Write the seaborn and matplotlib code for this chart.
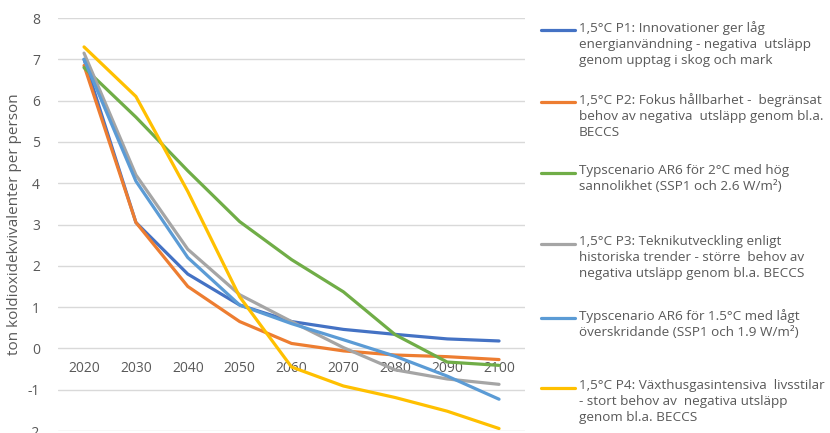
import matplotlib
matplotlib.use("Agg")
import matplotlib.pyplot as plt
from matplotlib.lines import Line2D
import seaborn as sns
import pandas as pd

years = [2020, 2030, 2040, 2050, 2060, 2070, 2080, 2090, 2100]

p1 = [7.0, 3.05, 1.8, 1.05, 0.65, 0.46, 0.34, 0.23, 0.18]
p2 = [6.85, 3.05, 1.5, 0.65, 0.12, -0.06, -0.16, -0.2, -0.27]
ar6_2c = [6.8, 5.6, 4.3, 3.07, 2.15, 1.37, 0.33, -0.33, -0.41]
p3 = [7.15, 4.2, 2.4, 1.3, 0.65, 0.02, -0.52, -0.74, -0.87]
ar6_15c = [7.0, 4.05, 2.2, 1.05, 0.6, 0.21, -0.19, -0.67, -1.23]
p4 = [7.3, 6.1, 3.8, 1.25, -0.45, -0.91, -1.19, -1.52, -1.94]

labels = [
    "1,5°C P1: Innovationer ger låg\nenergianvändning - negativa  utsläpp\ngenom upptag i skog och mark",
    "1,5°C P2: Fokus hållbarhet -  begränsat\nbehov av negativa  utsläpp genom bl.a.\nBECCS",
    "Typscenario AR6 för 2°C med hög\nsannolikhet (SSP1 och 2.6 W/m²)",
    "1,5°C P3: Teknikutveckling enligt\nhistoriska trender - större  behov av\nnegativa utsläpp genom bl.a. BECCS",
    "Typscenario AR6 för 1.5°C med lågt\növerskridande (SSP1 och 1.9 W/m²)",
    "1,5°C P4: Växthusgasintensiva  livsstilar\n- stort behov av  negativa utsläpp\ngenom bl.a. BECCS",
]
colors = ["#4472C4", "#ED7D31", "#70AD47", "#A5A5A5", "#5B9BD5", "#FFC000"]
series = [p1, p2, ar6_2c, p3, ar6_15c, p4]

rows = []
for lab, vals in zip(labels, series):
    for y, v in zip(years, vals):
        rows.append({"year": y, "value": v, "scenario": lab})
df = pd.DataFrame(rows)

sns.set_theme(style="white")
plt.rcParams["font.family"] = ["Open Sans", "DejaVu Sans"]
plt.rcParams["axes.unicode_minus"] = False

text_color = "#595959"
fig = plt.figure(figsize=(8.3, 4.33), dpi=100)
ax = fig.add_axes([0.07, 0.0046, 0.5625, 0.9538])

sns.lineplot(data=df, x="year", y="value", hue="scenario", hue_order=labels,
             palette=colors, linewidth=2.3, legend=False, ax=ax)

ax.set_xlim(2015, 2105)
ax.set_ylim(-2, 8)
ax.set_yticks(range(-2, 9))
ax.set_xticks(years)
ax.set_xticklabels([str(y) for y in years])
ax.grid(axis="y", color="#D9D9D9", linewidth=1.0)
ax.grid(axis="x", visible=False)
ax.set_axisbelow(True)
for s in ["top", "right", "left"]:
    ax.spines[s].set_visible(False)
ax.spines["bottom"].set_position(("data", 0))
ax.spines["bottom"].set_visible(False)
ax.tick_params(axis="both", length=0, labelsize=10, labelcolor=text_color)
ax.tick_params(axis="x", pad=9)
ax.tick_params(axis="y", pad=13)
ax.set_xlabel("")
ax.set_ylabel("ton koldioxidekvivalenter per person", fontsize=11,
              color=text_color, labelpad=4)

# legend drawn beside the plot, handle aligned with each entry's first line
entry_y = [30, 102, 173, 244, 318, 388]
W, H = 830, 433
for lab, col, yy in zip(labels, colors, entry_y):
    fy = 1 - yy / H
    fig.add_artist(Line2D([541 / W, 575 / W], [fy, fy], color=col, linewidth=2.3,
                          transform=fig.transFigure))
    fig.text(579 / W, fy + 9 / H, lab, fontsize=9.7, color=text_color,
             va="top", ha="left", linespacing=1.3)

fig.savefig("out.png", dpi=100)
